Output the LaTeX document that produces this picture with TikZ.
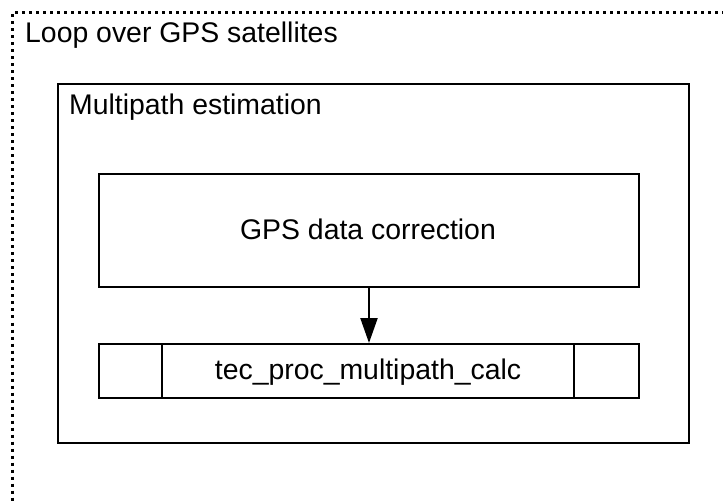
\documentclass[tikz,border=0pt]{standalone}
\usepackage{fontspec}
\setmainfont{Liberation Sans}
\usetikzlibrary{arrows.meta}
\begin{document}
\begin{tikzpicture}[x=1pt,y=-1pt,
  box/.style={draw=black, line width=2pt, anchor=north west, inner sep=0pt, minimum width=#1},
  dotframe/.style={draw=black, line width=3pt, dash pattern=on 3pt off 4pt, anchor=north west, inner sep=0pt},
  lbl/.style={font=\fontsize{28.4}{34}\selectfont, inner sep=0pt},
  flow/.style={draw=black, line width=2.2pt, -{Triangle[length=25pt,width=17pt]}}]
\useasboundingbox (0,0) rectangle (723,503);
\begin{scope}
\clip (0,0) rectangle (723,503);
\node[dotframe, minimum width=740pt, minimum height=520pt] (loop) at (11,11) {};
\end{scope}
\node[lbl, anchor=base west] (looplbl) at (25,43) {Loop over GPS satellites};
\node[box=631pt, minimum height=359pt] (mp) at (57,83) {};
\node[lbl, anchor=base west] (mplbl) at (69,114) {Multipath estimation};
\node[box=540pt, minimum height=113pt] (gps) at (98,173) {};
\node[lbl, anchor=base] (gpslbl) at (368,239) {GPS data correction};
\node[box=540pt, minimum height=54pt] (tec) at (98,343) {};
\node[lbl, anchor=base] (teclbl) at (368,379) {tec\_proc\_multipath\_calc};
\draw[line width=2pt] (162,343) -- (162,397);
\draw[line width=2pt] (574,343) -- (574,397);
\draw[flow] (gps.south) -- (tec.north);
\end{tikzpicture}
\end{document}
